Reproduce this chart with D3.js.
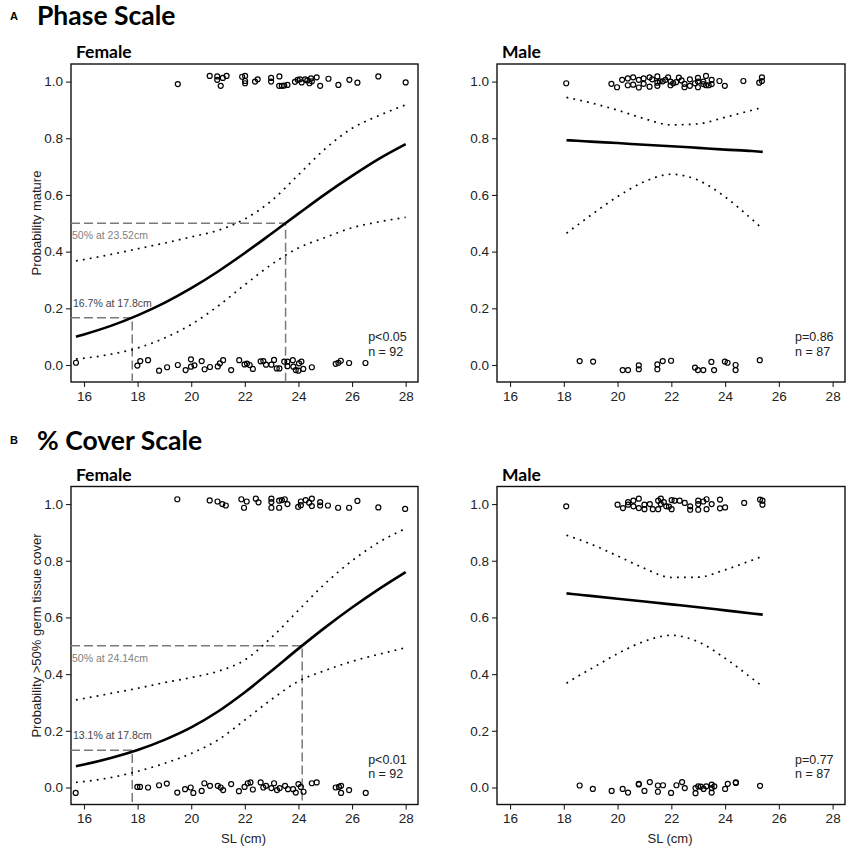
<!DOCTYPE html>
<html>
<head>
<meta charset="utf-8">
<script src="https://cdn.jsdelivr.net/npm/d3@7"></script>
<style>
  html, body { margin: 0; padding: 0; background: #fff; }
  svg { display: block; }
</style>
</head>
<body>
<script>
// ---------------- DATA ----------------
const panelTitles = ["Female", "Male"];
const sectionTitles = ["Phase Scale", "% Cover Scale"];
const sectionLetters = ["A", "B"];
const yAxisTitles = ["Probability mature", "Probability >50% germ tissue cover"];
const xAxisTitle = "SL (cm)";
const xTicks = [16, 18, 20, 22, 24, 26, 28];
const yTicks = [0.0, 0.2, 0.4, 0.6, 0.8, 1.0];

// fitted curves
const femaleGrid = [15.7, 16, 17, 18, 19, 20, 21, 22, 23, 24, 25, 26, 27, 28];
const phaseFemaleFit   = [0.100, 0.108, 0.138, 0.175, 0.219, 0.271, 0.330, 0.395, 0.464, 0.534, 0.603, 0.667, 0.727, 0.779];
const phaseFemaleUpper = [0.367, 0.372, 0.390, 0.410, 0.430, 0.452, 0.475, 0.515, 0.580, 0.671, 0.763, 0.835, 0.880, 0.918];
const phaseFemaleLower = [0.021, 0.024, 0.038, 0.060, 0.095, 0.143, 0.208, 0.283, 0.355, 0.413, 0.450, 0.484, 0.505, 0.521];
const coverFemaleFit   = [0.075, 0.081, 0.104, 0.132, 0.168, 0.212, 0.268, 0.336, 0.412, 0.490, 0.565, 0.635, 0.700, 0.760];
const coverFemaleUpper = [0.309, 0.314, 0.332, 0.350, 0.370, 0.388, 0.410, 0.450, 0.530, 0.625, 0.720, 0.800, 0.865, 0.914];
const coverFemaleLower = [0.018, 0.021, 0.035, 0.057, 0.085, 0.120, 0.168, 0.238, 0.311, 0.375, 0.413, 0.445, 0.470, 0.493];

const maleGrid = [18.1, 18.5, 19, 20, 21, 22, 23, 24, 25, 25.4];
const phaseMaleFit   = [0.793, 0.791, 0.788, 0.783, 0.777, 0.772, 0.766, 0.760, 0.755, 0.752];
const phaseMaleUpper = [0.944, 0.936, 0.925, 0.899, 0.869, 0.847, 0.851, 0.874, 0.899, 0.909];
const phaseMaleLower = [0.465, 0.493, 0.528, 0.594, 0.647, 0.673, 0.652, 0.593, 0.514, 0.480];
const coverMaleFit   = [0.685, 0.681, 0.676, 0.666, 0.656, 0.646, 0.636, 0.625, 0.614, 0.610];
const coverMaleUpper = [0.890, 0.877, 0.859, 0.817, 0.773, 0.741, 0.742, 0.768, 0.802, 0.816];
const coverMaleLower = [0.368, 0.391, 0.418, 0.472, 0.516, 0.537, 0.514, 0.456, 0.385, 0.356];

// observations (SL, jittered 0/1 response)
const phaseFemaleSL = [19.50,20.69,20.97,20.97,21.10,21.18,21.32,21.90,22.01,22.01,22.01,22.38,22.48,22.98,22.98,23.29,23.28,23.38,23.47,23.59,23.87,23.97,24.06,24.12,24.25,24.33,24.41,24.47,24.50,24.68,24.81,25.12,25.49,25.90,26.20,26.98,28.00,
  15.70,17.99,18.10,18.39,18.80,19.10,19.50,19.79,19.99,19.99,20.12,20.39,20.50,20.70,20.99,21.07,21.19,21.49,21.79,21.99,22.08,22.18,22.30,22.59,22.69,22.79,22.99,23.09,23.19,23.29,23.47,23.59,23.59,23.79,23.81,23.90,24.00,24.02,24.11,24.18,24.50,25.39,25.49,25.58,25.89,26.50];
const phaseFemaleY = [0.991,1.020,1.018,1.006,0.985,1.013,1.020,1.017,1.020,1.002,0.994,1.000,1.008,1.013,1.000,1.018,0.985,0.985,0.986,0.988,0.999,1.006,1.008,0.997,1.008,1.004,0.994,1.011,1.001,1.015,0.985,1.010,0.988,1.006,0.996,1.018,0.997,
  0.008,-0.002,0.014,0.017,-0.020,-0.008,0.000,-0.018,0.020,-0.006,-0.001,0.014,-0.015,-0.007,-0.005,0.006,0.017,-0.018,0.017,0.002,0.005,0.000,-0.014,0.013,0.014,0.001,0.001,0.018,-0.012,-0.012,0.012,0.012,-0.004,0.017,-0.006,-0.018,-0.020,0.006,0.012,-0.014,-0.008,0.004,0.008,0.015,0.007,0.007];

const phaseMaleSL = [18.09,19.77,19.98,20.17,20.38,20.38,20.58,20.58,20.79,20.79,20.97,20.97,21.19,21.19,21.29,21.48,21.48,21.48,21.57,21.68,21.78,21.88,21.97,21.97,22.07,22.18,22.28,22.38,22.49,22.49,22.69,22.69,22.88,22.99,22.99,22.99,23.19,23.19,23.29,23.29,23.39,23.50,23.50,23.79,23.99,24.68,25.27,25.37,25.37,
  18.59,19.09,20.19,20.39,20.79,20.79,21.48,21.48,21.68,21.99,22.88,22.99,23.19,23.49,23.59,23.99,24.09,24.39,24.39,25.29];
const phaseMaleY = [0.994,0.992,0.980,1.006,1.011,0.987,1.015,0.989,1.006,0.979,1.011,0.992,1.015,0.982,1.008,1.018,0.996,0.985,1.001,1.001,1.006,1.015,1.000,0.987,0.994,0.998,1.014,1.004,0.992,0.980,1.008,0.985,0.994,1.013,1.000,0.980,1.000,0.991,1.020,0.987,0.987,1.006,0.991,1.002,0.985,1.002,0.996,1.015,1.002,
  0.014,0.012,-0.018,-0.018,-0.001,-0.015,0.002,-0.015,0.014,0.015,-0.009,-0.018,-0.018,0.011,-0.018,0.012,0.008,0.000,-0.018,0.017];

const coverFemaleSL = [19.48,20.69,20.98,21.16,21.29,21.87,21.97,22.07,22.41,22.51,22.99,22.99,22.99,23.28,23.28,23.38,23.49,23.59,23.99,24.09,24.09,24.27,24.40,24.50,24.50,24.81,24.81,25.10,25.48,25.89,26.20,26.98,27.98,
  15.69,17.99,18.09,18.39,18.80,19.09,19.48,19.77,19.98,20.08,20.39,20.49,20.70,20.99,21.10,21.19,21.49,21.78,21.99,22.11,22.21,22.30,22.59,22.69,22.79,22.99,23.09,23.20,23.30,23.50,23.61,23.80,23.90,24.00,24.09,24.19,24.50,24.68,25.39,25.51,25.59,25.59,25.89,26.51];
const coverFemaleY = [1.017,1.013,1.009,1.000,0.995,1.017,0.987,1.009,1.019,1.006,1.019,1.007,0.987,1.012,0.987,1.014,1.017,1.000,0.990,1.009,0.996,1.014,1.005,1.019,0.993,1.007,0.995,0.995,0.987,0.987,1.011,0.988,0.983,
  -0.019,0.002,0.002,0.000,0.008,0.014,-0.018,-0.006,0.000,-0.019,-0.012,0.015,0.006,0.006,0.000,-0.009,0.012,-0.013,0.002,0.015,0.018,-0.007,0.018,0.000,0.006,-0.002,0.015,-0.009,-0.002,0.006,-0.006,-0.006,-0.018,0.012,0.002,-0.015,0.015,0.018,0.000,0.002,0.006,-0.019,-0.009,-0.019];

const coverMaleSL = [18.09,20.00,20.20,20.39,20.39,20.59,20.59,20.79,20.79,21.00,21.00,21.20,21.31,21.51,21.51,21.61,21.61,21.72,21.81,21.91,22.01,22.01,22.12,22.31,22.50,22.70,22.70,23.00,23.00,23.00,23.19,23.31,23.31,23.50,23.81,23.81,24.00,24.71,25.30,25.39,25.39,
  18.59,19.08,19.78,20.19,20.39,20.79,20.79,21.00,21.20,21.50,21.50,21.69,21.99,22.19,22.40,22.50,22.90,22.90,23.00,23.10,23.20,23.30,23.50,23.50,23.50,23.60,24.00,24.10,24.40,24.40,25.30];
const coverMaleY = [0.992,0.998,0.986,1.007,0.998,1.012,0.992,1.019,0.986,0.998,0.982,1.000,0.982,1.012,0.982,1.019,1.000,1.007,0.992,0.991,1.014,0.982,1.012,1.012,1.004,0.992,0.980,1.012,1.000,0.980,1.009,1.017,0.982,1.000,1.016,0.985,0.988,1.004,1.016,1.012,0.998,
  0.007,-0.005,-0.012,-0.005,-0.018,0.013,0.011,-0.012,0.019,0.007,-0.015,0.008,-0.019,0.008,0.019,-0.002,-0.002,-0.020,0.004,0.003,-0.005,0.004,0.010,-0.002,-0.018,0.004,-0.005,0.013,0.018,0.016,0.006];

// reference (50% / small-size) annotations
const refSL   = [[17.8, 23.52], [17.8, 24.14]];
const refProb = [[0.167, 0.5], [0.131, 0.5]];
const refLabels = [["16.7% at 17.8cm", "50% at 23.52cm"], ["13.1% at 17.8cm", "50% at 24.14cm"]];
const statLabels = [["p<0.05", "p=0.86"], ["p<0.01", "p=0.77"]];
const nLabels = [["n = 92", "n = 87"], ["n = 92", "n = 87"]];

// ---------------- LAYOUT ----------------
const W = 856, H = 851;
const colX = [[71, 418], [497, 845]];
const rowY = [[64, 382], [486.5, 804.5]];
const xDomain = [15.515, 28.46];
const yDomain = [-0.06, 1.062];
const AX_FONT = "'Liberation Sans', Arial, sans-serif";
const TITLE_FONT = "Lato, 'Open Sans', sans-serif";

const svg = d3.select("body").append("svg").attr("width", W).attr("height", H);

const panels = [
  {row: 0, col: 0, grid: femaleGrid, fit: phaseFemaleFit, up: phaseFemaleUpper, lo: phaseFemaleLower, sl: phaseFemaleSL, y: phaseFemaleY},
  {row: 0, col: 1, grid: maleGrid, fit: phaseMaleFit, up: phaseMaleUpper, lo: phaseMaleLower, sl: phaseMaleSL, y: phaseMaleY},
  {row: 1, col: 0, grid: femaleGrid, fit: coverFemaleFit, up: coverFemaleUpper, lo: coverFemaleLower, sl: coverFemaleSL, y: coverFemaleY},
  {row: 1, col: 1, grid: maleGrid, fit: coverMaleFit, up: coverMaleUpper, lo: coverMaleLower, sl: coverMaleSL, y: coverMaleY}
];

// section headers
const headerY = [[20, 25], [444, 450]];
[0, 1].forEach(r => {
  svg.append("text").attr("x", 10).attr("y", headerY[r][0])
    .attr("font-family", AX_FONT).attr("font-weight", "bold").attr("font-size", 11)
    .text(sectionLetters[r]);
  svg.append("text").attr("x", 37).attr("y", headerY[r][1])
    .attr("font-family", TITLE_FONT).attr("font-weight", "bold").attr("font-size", 26.5)
    .text(sectionTitles[r]);
});

panels.forEach(p => {
  const [x0, x1] = colX[p.col];
  const [y0, y1] = rowY[p.row];
  const x = d3.scaleLinear().domain(xDomain).range([x0, x1]);
  const y = d3.scaleLinear().domain(yDomain).range([y1, y0]);
  const g = svg.append("g");

  // panel title
  g.append("text").attr("x", x0 + 5).attr("y", y0 - 6)
    .attr("font-family", TITLE_FONT).attr("font-weight", "bold").attr("font-size", 17.5)
    .text(panelTitles[p.col]);

  // axes
  const ya = g.append("g").attr("transform", `translate(${x0},0)`)
    .call(d3.axisLeft(y).tickValues(yTicks).tickFormat(d3.format(".1f")).tickSize(5).tickPadding(3));
  const xa = g.append("g").attr("transform", `translate(0,${y1})`)
    .call(d3.axisBottom(x).tickValues(xTicks).tickFormat(d3.format("d")).tickSize(5).tickPadding(4));
  [ya, xa].forEach(a => {
    a.select(".domain").remove();
    a.selectAll("line").attr("stroke", "#222").attr("stroke-width", 1.1);
    a.selectAll("text").attr("font-family", AX_FONT).attr("font-size", 13.5).attr("fill", "#222");
  });

  // box
  g.append("rect").attr("x", x0).attr("y", y0).attr("width", x1 - x0).attr("height", y1 - y0)
    .attr("fill", "none").attr("stroke", "#111").attr("stroke-width", 1.4);

  // axis titles
  if (p.col === 0) {
    const cy = p.row === 0 ? (y0 + y1) / 2 : (y0 + y1) / 2 - 10;
    g.append("text").attr("transform", `translate(41,${cy}) rotate(-90)`)
      .attr("text-anchor", "middle").attr("font-family", AX_FONT).attr("font-size", 13).attr("fill", "#222")
      .text(yAxisTitles[p.row]);
  }
  if (p.row === 1) {
    g.append("text").attr("x", (x0 + x1) / 2 - 1).attr("y", 843)
      .attr("text-anchor", "middle").attr("font-family", AX_FONT).attr("font-size", 13).attr("fill", "#222")
      .text(xAxisTitle);
  }

  // reference dashed lines (female only)
  if (p.col === 0) {
    const rs = refSL[p.row], rp = refProb[p.row], rl = refLabels[p.row];
    rs.forEach((sv, i) => {
      g.append("path")
        .attr("d", d3.line()([[x0, y(rp[i])], [x(sv), y(rp[i])], [x(sv), y1]]))
        .attr("fill", "none").attr("stroke", "#7a7a7a").attr("stroke-width", 1.5)
        .attr("stroke-dasharray", "9,4");
    });
    g.append("text").attr("x", x0 + 2).attr("y", y(rp[0]) - 11)
      .attr("font-family", AX_FONT).attr("font-size", 10.5).attr("fill", "#444").text(rl[0]);
    g.append("text").attr("x", x0 + 1).attr("y", y(rp[1]) + 16)
      .attr("font-family", AX_FONT).attr("font-size", 10.5).attr("fill", "#808080").text(rl[1]);
  }

  // curves
  const line = d3.line().x((d, i) => x(p.grid[i])).y(d => y(d)).curve(d3.curveMonotoneX);
  g.append("path").attr("d", line(p.up)).attr("fill", "none").attr("stroke", "#000")
    .attr("stroke-width", 1.7).attr("stroke-dasharray", "1.8,5.2");
  g.append("path").attr("d", line(p.lo)).attr("fill", "none").attr("stroke", "#000")
    .attr("stroke-width", 1.7).attr("stroke-dasharray", "1.8,5.2");
  g.append("path").attr("d", line(p.fit)).attr("fill", "none").attr("stroke", "#000")
    .attr("stroke-width", 2.6);

  // points
  g.selectAll("circle.pt").data(p.sl).enter().append("circle")
    .attr("cx", d => x(d)).attr("cy", (d, i) => y(p.y[i])).attr("r", 2.5)
    .attr("fill", "none").attr("stroke", "#000").attr("stroke-width", 1.2);

  // stats
  g.append("text").attr("x", x(26.6)).attr("y", y(0.083))
    .attr("font-family", AX_FONT).attr("font-size", 12.5).attr("fill", "#222").text(statLabels[p.row][p.col]);
  g.append("text").attr("x", x(26.6)).attr("y", y(0.033))
    .attr("font-family", AX_FONT).attr("font-size", 12.5).attr("fill", "#222").text(nLabels[p.row][p.col]);
});
</script>
</body>
</html>
